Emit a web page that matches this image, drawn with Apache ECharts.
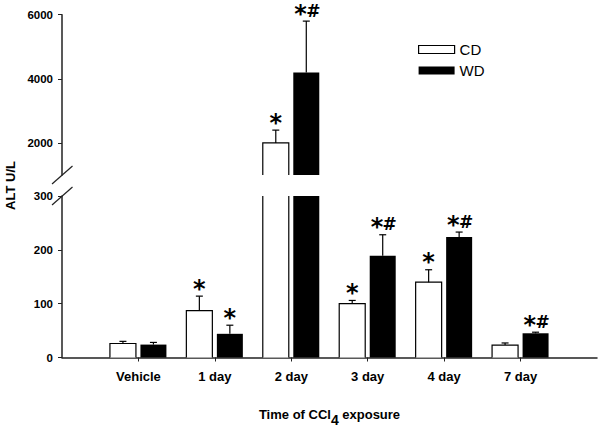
<!DOCTYPE html>
<html>
<head>
<meta charset="utf-8">
<script src="https://cdn.jsdelivr.net/npm/echarts@6/dist/echarts.min.js"></script>
<style>
html,body{margin:0;padding:0;background:#fff;}
#chart{width:601px;height:431px;}
</style>
</head>
<body>
<div id="chart"></div>
<script>
// ---- data ----
const categories = ['Vehicle', '1 day', '2 day', '3 day', '4 day', '7 day'];
const cdMean = [26, 87, 2000, 100, 140, 23];
const cdErr  = [4, 27, 400, 6, 23, 4];
const wdMean = [24, 44, 4200, 189, 224, 45];
const wdErr  = [4, 16, 1600, 39, 9, 2];
const cdMark = ['', '*', '*', '*', '*', ''];
const wdMark = ['', '*', '*#', '*#', '*#', '*#'];
const lowerTicks = [0, 100, 200, 300];
const upperTicks = [2000, 4000, 6000];

// ---- layout / style ----
const FONT = 'Liberation Sans, Arial, sans-serif';
const MARK_FONT = 'DejaVu Sans, sans-serif';
const BAR_W = 26;
const CD_OFF = -15.5;
const WD_OFF = 15;
const LOWER = {min: 0, max: 300};
const UPPER = {min: 1000, max: 6000};

const xData = [''].concat(categories, ['']);

function toData(means, errs) {
  return means.map((m, i) => [i + 1, m, errs[i]]);
}

function markTexts(mk, cx, capY) {
  const out = [];
  const two = mk.length > 1;
  const starX = two ? cx - 5.8 : cx;
  out.push({
    type: 'text',
    style: {text: '*', x: starX, y: capY - 7.5, fill: '#000', font: 'bold 24px ' + MARK_FONT,
      align: 'center', verticalAlign: 'middle'}
  });
  if (two) {
    out.push({
      type: 'text',
      style: {text: '#', x: cx + 7, y: capY - 10.3, fill: '#000', font: 'bold 17px ' + MARK_FONT,
        align: 'center', verticalAlign: 'middle'}
    });
  }
  return out;
}

function makeRender(range, offset, isCD, marks) {
  return function (params, api) {
    const idx = api.value(0), v = api.value(1), e = api.value(2);
    if (!(v > range.min)) return null;
    const base = api.coord([idx, range.min]);
    const clipped = v > range.max;
    const topPt = api.coord([idx, Math.min(v, range.max)]);
    const cx = base[0] + offset;
    const x0 = cx - BAR_W / 2, x1 = cx + BAR_W / 2;
    const yb = base[1], yt = topPt[1];
    let children = [];
    children.push({
      type: 'rect',
      shape: {x: x0, y: yt, width: BAR_W, height: yb - yt},
      style: {fill: isCD ? '#fff' : '#000'}
    });
    if (isCD) {
      if (clipped) {
        children.push({type: 'line', shape: {x1: x0, y1: yb, x2: x0, y2: yt}, style: {stroke: '#000', lineWidth: 1.2}});
        children.push({type: 'line', shape: {x1: x1, y1: yb, x2: x1, y2: yt}, style: {stroke: '#000', lineWidth: 1.2}});
      } else {
        children.push({type: 'polyline', shape: {points: [[x0, yb], [x0, yt], [x1, yt], [x1, yb]]}, style: {stroke: '#000', fill: null, lineWidth: 1.2}});
      }
    }
    if (!clipped) {
      const ep = api.coord([idx, Math.min(v + e, range.max)]);
      children.push({type: 'line', shape: {x1: cx, y1: yt, x2: cx, y2: ep[1]}, style: {stroke: '#000', lineWidth: 1.2}});
      children.push({type: 'line', shape: {x1: cx - 3.5, y1: ep[1], x2: cx + 3.5, y2: ep[1]}, style: {stroke: '#000', lineWidth: 1.2}});
      const mk = marks[params.dataIndex];
      if (mk) children = children.concat(markTexts(mk, cx, ep[1]));
    }
    return {type: 'group', children: children};
  };
}

const axisLineStyle = {color: '#222', width: 1.5};
const yLabel = {color: '#000', fontWeight: 'bold', fontSize: 11.5, fontFamily: FONT, margin: 9,
  formatter: function (v) { return String(v); }};

const chart = echarts.init(document.getElementById('chart'), null, {renderer: 'svg'});
const option = {
  animation: false,
  backgroundColor: '#fff',
  legend: {
    orient: 'vertical',
    left: 413, top: 37,
    itemWidth: 36, itemHeight: 8, itemGap: 6,
    textStyle: {fontSize: 15, fontFamily: FONT, color: '#000', lineHeight: 15},
    selectedMode: false,
    data: [
      {name: 'CD', icon: 'rect', itemStyle: {color: '#fff', borderColor: '#000', borderWidth: 1.2}},
      {name: 'WD', icon: 'rect', itemStyle: {color: '#000', borderWidth: 0}}
    ]
  },
  grid: [
    {left: 62, right: 4, top: 196, bottom: 73.5},
    {left: 62, right: 4, top: 14.7, bottom: 256}
  ],
  xAxis: [
    {
      type: 'category', gridIndex: 0, data: xData, boundaryGap: false,
      axisLine: {lineStyle: axisLineStyle},
      axisTick: {length: 4, lineStyle: {color: '#222'}, interval: function (i, v) { return v !== ''; }},
      axisLabel: {color: '#000', fontWeight: 'bold', fontSize: 13, fontFamily: FONT, margin: 12, interval: 0},
      name: 'Time of CCl{sub|4} exposure',
      nameLocation: 'middle', nameGap: 45,
      nameTextStyle: {
        color: '#000', fontWeight: 'bold', fontSize: 13, fontFamily: FONT,
        rich: {sub: {fontSize: 14, fontWeight: 'bold', fontFamily: FONT, color: '#000', padding: [10, 0, 0, 0]}}
      }
    },
    {type: 'category', gridIndex: 1, data: xData, boundaryGap: false, show: false}
  ],
  yAxis: [
    {
      type: 'value', gridIndex: 0, min: LOWER.min, max: LOWER.max, interval: 100,
      splitLine: {show: false},
      axisLine: {show: true, lineStyle: axisLineStyle},
      axisTick: {show: true, length: 4, lineStyle: {color: '#222'}, customValues: lowerTicks},
      axisLabel: Object.assign({customValues: lowerTicks}, yLabel)
    },
    {
      type: 'value', gridIndex: 1, min: UPPER.min, max: UPPER.max, interval: 1000,
      splitLine: {show: false},
      axisLine: {show: true, lineStyle: axisLineStyle},
      axisTick: {show: true, length: 4, lineStyle: {color: '#222'}, customValues: upperTicks},
      axisLabel: Object.assign({customValues: upperTicks}, yLabel)
    }
  ],
  series: [
    {name: 'CD', type: 'custom', xAxisIndex: 0, yAxisIndex: 0, data: toData(cdMean, cdErr),
      itemStyle: {color: '#fff', borderColor: '#000'}, renderItem: makeRender(LOWER, CD_OFF, true, cdMark)},
    {name: 'WD', type: 'custom', xAxisIndex: 0, yAxisIndex: 0, data: toData(wdMean, wdErr),
      itemStyle: {color: '#000'}, renderItem: makeRender(LOWER, WD_OFF, false, wdMark)},
    {name: 'CD', type: 'custom', xAxisIndex: 1, yAxisIndex: 1, data: toData(cdMean, cdErr),
      itemStyle: {color: '#fff', borderColor: '#000'}, renderItem: makeRender(UPPER, CD_OFF, true, cdMark)},
    {name: 'WD', type: 'custom', xAxisIndex: 1, yAxisIndex: 1, data: toData(wdMean, wdErr),
      itemStyle: {color: '#000'}, renderItem: makeRender(UPPER, WD_OFF, false, wdMark)}
  ]
};
chart.setOption(option);

// axis-break marks and y title, positioned from the grids
const lowTop = chart.convertToPixel({xAxisIndex: 0, yAxisIndex: 0}, [0, LOWER.max]);
const upBot = chart.convertToPixel({xAxisIndex: 1, yAxisIndex: 1}, [0, UPPER.min]);
function slash(p) {
  return {type: 'line', shape: {x1: p[0] - 10, y1: p[1] + 9, x2: p[0] + 10.5, y2: p[1] - 9},
    style: {stroke: '#222', lineWidth: 1.2}};
}
chart.setOption({
  graphic: [
    slash(upBot), slash(lowTop),
    {type: 'text', x: 10, y: (upBot[1] + lowTop[1]) / 2, rotation: Math.PI / 2,
      style: {text: 'ALT U/L', fill: '#000', font: 'bold 13px ' + FONT, align: 'center', verticalAlign: 'middle'}}
  ]
});
</script>
</body>
</html>
